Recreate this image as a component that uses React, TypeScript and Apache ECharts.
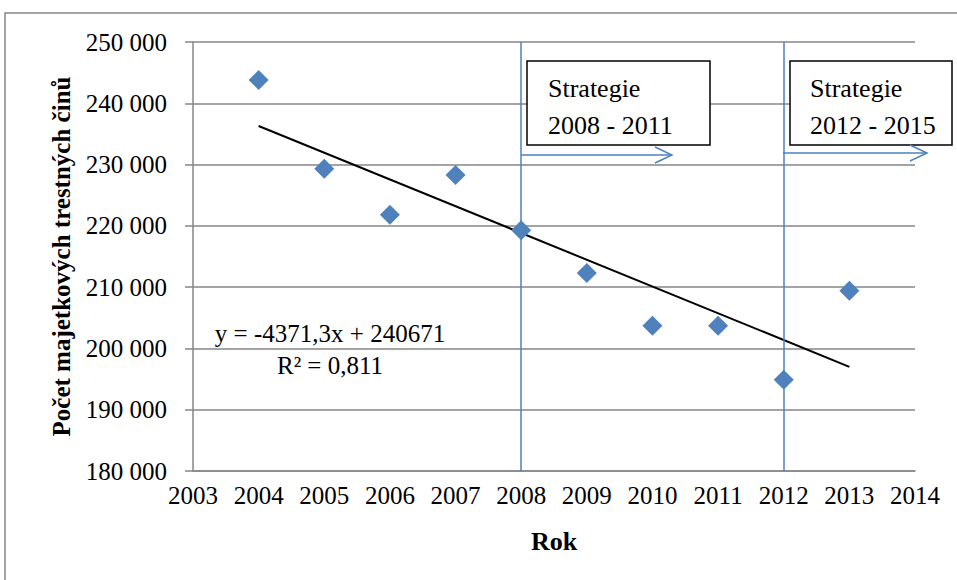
import React, { useEffect, useRef } from "react";
import * as echarts from "echarts";

const years = [2004, 2005, 2006, 2007, 2008, 2009, 2010, 2011, 2012, 2013];
const crimes = [243800, 229300, 221800, 228300, 219300, 212300, 203700, 203700, 194900, 209400];
const trendYears = [2004, 2013];
const trendValues = [236300, 197000];
const strategyYears = [2008, 2012];
const equationText = "y = -4371,3x + 240671";
const r2Text = "R² = 0,811";
const box1Lines = ["Strategie", "2008 - 2011"];
const box2Lines = ["Strategie", "2012 - 2015"];

const FONT = "Liberation Serif";
const BLUE = "#4F81BD";
const GRID = "#868686";

export default function App() {
  const ref = useRef<HTMLDivElement>(null);
  useEffect(() => {
    if (!ref.current) return;
    const chart = echarts.init(ref.current, null, { renderer: "svg" });
    const fmt = (v: number) => {
      const s = String(Math.round(v));
      return s.replace(/\B(?=(\d{3})+(?!\d))/g, " ");
    };
    const txt = (x: number, y: number, text: string, size: number, align: string) => ({
      type: "text",
      x,
      y,
      z: 11,
      style: {
        text,
        fontFamily: FONT,
        fontSize: size,
        fill: "#000",
        textAlign: align,
        textVerticalAlign: "middle",
      },
    });
    chart.setOption({
      animation: false,
      backgroundColor: "#ffffff",
      textStyle: { fontFamily: FONT },
      grid: { left: 193, right: 42, top: 42, bottom: 109 },
      xAxis: {
        type: "value",
        min: 2003,
        max: 2014,
        interval: 1,
        name: "Rok",
        nameLocation: "middle",
        nameGap: 57,
        nameTextStyle: { fontFamily: FONT, fontSize: 26, fontWeight: "bold", color: "#000" },
        axisLine: { show: true, lineStyle: { color: GRID, width: 1.5 } },
        axisTick: { show: false },
        splitLine: { show: false },
        axisLabel: {
          fontFamily: FONT,
          fontSize: 25,
          color: "#000",
          margin: 12,
          formatter: (v: number) => String(v),
        },
      },
      yAxis: {
        type: "value",
        min: 180000,
        max: 250000,
        interval: 10000,
        name: "Počet majetkových trestných činů",
        nameLocation: "middle",
        nameGap: 119,
        nameTextStyle: { fontFamily: FONT, fontSize: 25, fontWeight: "bold", color: "#000" },
        axisLine: { show: true, lineStyle: { color: GRID, width: 1.5 } },
        axisTick: { show: true, length: 8, lineStyle: { color: GRID, width: 1.5 } },
        splitLine: { show: true, lineStyle: { color: GRID, width: 1.5 } },
        axisLabel: {
          fontFamily: FONT,
          fontSize: 25,
          color: "#000",
          margin: 26,
          formatter: fmt,
        },
      },
      series: [
        {
          type: "scatter",
          data: years.map((y, i) => [y, crimes[i]]),
          symbol: "diamond",
          symbolSize: 20,
          itemStyle: { color: BLUE, opacity: 1 },
          z: 5,
          markLine: {
            silent: true,
            symbol: ["none", "none"],
            label: { show: false },
            lineStyle: { color: BLUE, width: 1.5, type: "solid", opacity: 1 },
            data: strategyYears.map((y) => ({ xAxis: y })),
          },
        },
        {
          type: "line",
          data: trendYears.map((y, i) => [y, trendValues[i]]),
          symbol: "none",
          lineStyle: { color: "#000", width: 2 },
          z: 4,
        },
      ],
      graphic: [
        {
          type: "rect",
          shape: { x: 5, y: 13, width: 1000, height: 1000 },
          style: { fill: "none", stroke: GRID, lineWidth: 1.5 },
          z: 0,
        },
        txt(330, 333, equationText, 25, "center"),
        txt(330, 365, r2Text, 25, "center"),
        {
          type: "rect",
          shape: { x: 527, y: 61, width: 183, height: 84 },
          style: { fill: "#fff", stroke: "#000", lineWidth: 1.5 },
          z: 10,
        },
        txt(548, 88, box1Lines[0], 26, "left"),
        txt(548, 125, box1Lines[1], 26, "left"),
        {
          type: "rect",
          shape: { x: 790, y: 61, width: 162, height: 84 },
          style: { fill: "#fff", stroke: "#000", lineWidth: 1.5 },
          z: 10,
        },
        txt(810, 88, box2Lines[0], 26, "left"),
        txt(810, 125, box2Lines[1], 26, "left"),
        {
          type: "line",
          shape: { x1: 521, y1: 155, x2: 672, y2: 155 },
          style: { stroke: BLUE, lineWidth: 1.5 },
          z: 10,
        },
        {
          type: "polyline",
          shape: { points: [[655, 147], [672, 155], [655, 163]] },
          style: { stroke: BLUE, lineWidth: 1.5, fill: "none" },
          z: 10,
        },
        {
          type: "line",
          shape: { x1: 783, y1: 153, x2: 927, y2: 153 },
          style: { stroke: BLUE, lineWidth: 1.5 },
          z: 10,
        },
        {
          type: "polyline",
          shape: { points: [[910, 145], [927, 153], [910, 161]] },
          style: { stroke: BLUE, lineWidth: 1.5, fill: "none" },
          z: 10,
        },
      ],
    });
    return () => chart.dispose();
  }, []);
  return <div ref={ref} style={{ width: 957, height: 580, position: "absolute", left: 0, top: 0 }} />;
}
